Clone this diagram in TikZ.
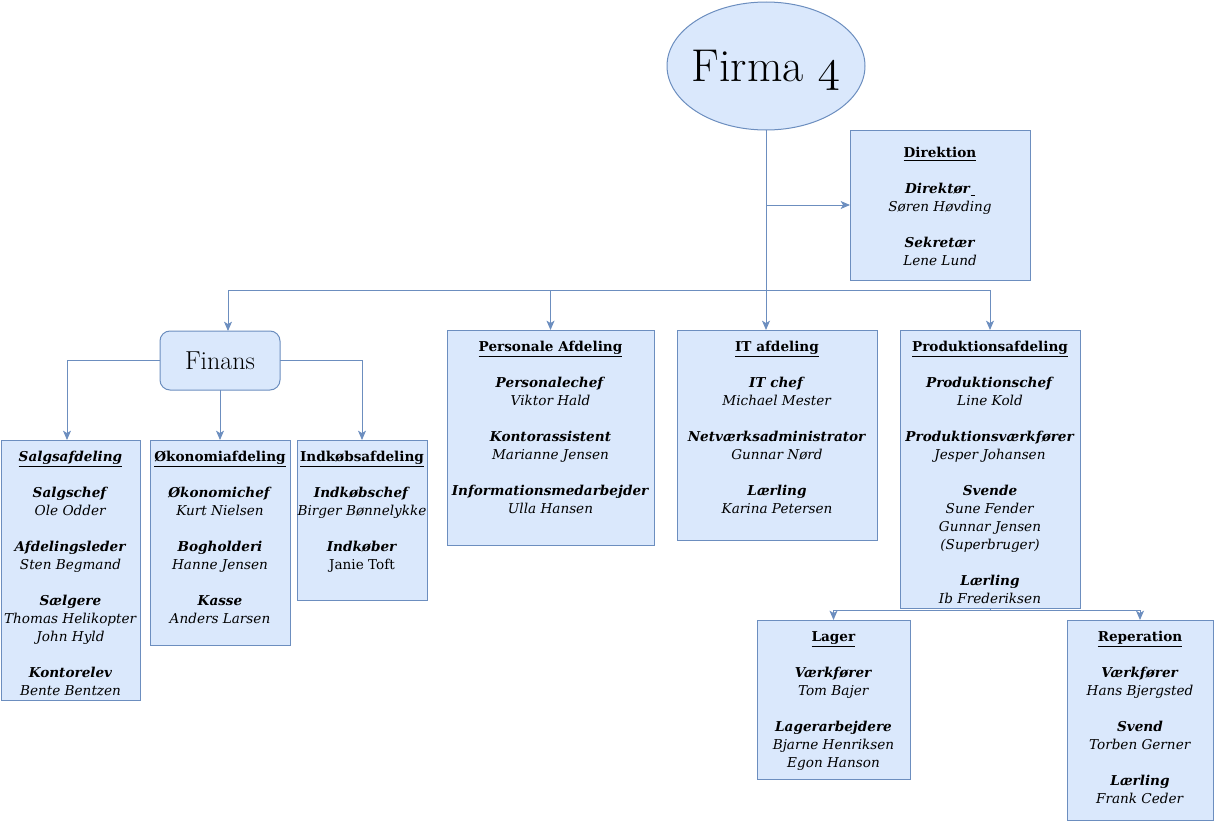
\documentclass[tikz,border=0pt]{standalone}
\usepackage{fix-cm}
\usepackage{fontspec}
\newfontfamily\boxfont{DejaVu Serif}
\usetikzlibrary{shapes.geometric,arrows.meta}
\definecolor{bfill}{HTML}{DAE8FC}
\definecolor{bline}{HTML}{6C8EBF}
\newcommand\otitle[1]{\underline{\textbf{#1}}}
\newcommand\orole[1]{\textbf{\textit{#1}}}
\newcommand\oname[1]{\textit{#1}}
\newcommand\orgbox[7]{%
  \node[obox, minimum width={(#4-#2)*0.75pt}, minimum height={(#5-#3)*0.75pt}] (#1) at ({(#2+#4)/2},{(#3+#5)/2}) {};
  \node[otext, anchor=north] (#1t) at ({(#2+#4)/2},{#3+#6}) {\strut#7};}
\begin{document}
\begin{tikzpicture}[x=0.75pt,y=-0.75pt,
  obox/.style={draw=bline, fill=bfill, line width=0.75pt, inner sep=0pt, outer sep=0pt},
  otext/.style={inner sep=0pt, align=center, font={\boxfont\fontsize{10.2}{13.5}\selectfont}},
  arr/.style={draw=bline, line width=0.75pt, -{Stealth[length=7pt,width=6pt,inset=1.8pt]}},
  ln/.style={draw=bline, line width=0.75pt}]
\useasboundingbox (0,0) rectangle (1215,821);
\node[ellipse, draw=bline, fill=bfill, line width=0.75pt, minimum width=148.5pt, minimum height=96pt, inner sep=0pt, outer sep=0pt] (firma) at (766,66) {};
\node[inner sep=0pt, anchor=base, font={\fontsize{34.5}{38}\selectfont}] (firmat) at (766,81) {Firma $\mathnormal{4}$};
\node[rectangle, rounded corners=7.5pt, draw=bline, fill=bfill, line width=0.75pt, minimum width=90pt, minimum height=44.25pt, inner sep=0pt, outer sep=0pt,
  font={\fontsize{19.5}{22}\selectfont}] (finans) at (220,360.5) {Finans};

\orgbox{dir}{850}{130}{1030}{280}{15}{\otitle{Direktion}\\[13.5pt]\orole{Direktør}\underline{\ }\\\oname{Søren Høvding}\\[13.5pt]\orole{Sekretær}\\\oname{Lene Lund}}
\orgbox{salg}{1}{440}{140}{700}{9}{\underline{\textbf{\textit{Salgsafdeling}}}\\[13.5pt]\orole{Salgschef}\\\oname{Ole Odder}\\[13.5pt]\orole{Afdelingsleder}\\\oname{Sten Begmand}\\[13.5pt]\orole{Sælgere}\\\oname{Thomas Helikopter}\\\oname{John Hyld}\\[13.5pt]\orole{Kontorelev}\\\oname{Bente Bentzen}}
\orgbox{oko}{150}{440}{290}{645}{9}{\otitle{Økonomiafdeling}\\[13.5pt]\orole{Økonomichef}\\\oname{Kurt Nielsen}\\[13.5pt]\orole{Bogholderi}\\\oname{Hanne Jensen}\\[13.5pt]\orole{Kasse}\\\oname{Anders Larsen}}
\orgbox{ind}{297}{440}{427}{600}{9}{\otitle{Indkøbsafdeling}\\[13.5pt]\orole{Indkøbschef}\\\oname{Birger Bønnelykke}\\[13.5pt]\orole{Indkøber}\\Janie Toft}
\orgbox{pers}{447}{330}{654}{545}{9}{\otitle{Personale Afdeling}\\[13.5pt]\orole{Personalechef}\\\oname{Viktor Hald}\\[13.5pt]\orole{Kontorassistent}\\\oname{Marianne Jensen}\\[13.5pt]\orole{Informationsmedarbejder}\\\oname{Ulla Hansen}}
\orgbox{it}{677}{330}{877}{540}{9}{\otitle{IT afdeling}\\[13.5pt]\orole{IT chef}\\\oname{Michael Mester}\\[13.5pt]\orole{Netværksadministrator}\\\oname{Gunnar Nørd}\\[13.5pt]\orole{Lærling}\\\oname{Karina Petersen}}
\orgbox{prod}{900}{330}{1080}{608}{9}{\otitle{Produktionsafdeling}\\[13.5pt]\orole{Produktionschef}\\\oname{Line Kold}\\[13.5pt]\orole{Produktionsværkfører}\\\oname{Jesper Johansen}\\[13.5pt]\orole{Svende}\\\oname{Sune Fender}\\\oname{Gunnar Jensen}\\\oname{(Superbruger)}\\[13.5pt]\orole{Lærling}\\\oname{Ib Frederiksen}}
\orgbox{lager}{757}{620}{910}{779}{9}{\otitle{Lager}\\[13.5pt]\orole{Værkfører}\\\oname{Tom Bajer}\\[13.5pt]\orole{Lagerarbejdere}\\\oname{Bjarne Henriksen}\\\oname{Egon Hanson}}
\orgbox{rep}{1067}{620}{1213}{820}{9}{\otitle{Reperation}\\[13.5pt]\orole{Værkfører}\\\oname{Hans Bjergsted}\\[13.5pt]\orole{Svend}\\\oname{Torben Gerner}\\[13.5pt]\orole{Lærling}\\\oname{Frank Ceder}}

\coordinate (bus) at (766,290);
\coordinate (finin) at (228,331);
\coordinate (salgin) at (67,440);
\coordinate (pb) at (990,610);
\draw[arr] (firma.south) -- (firma.south |- it.north);
\draw[arr] (firma.south |- dir.west) -- (dir.west);
\draw[arr] (bus) -| (finin);
\draw[arr] (bus) -| (pers.north);
\draw[arr] (bus) -| (prod.north);
\draw[arr] (finans.west) -| (salgin);
\draw[arr] (finans.south) -- (oko.north);
\draw[arr] (finans.east) -| (ind.north);
\draw[ln] (prod.south) -- (pb);
\draw[arr] (pb) -| (lager.north);
\draw[arr] (pb) -| (rep.north);
\end{tikzpicture}
\end{document}
